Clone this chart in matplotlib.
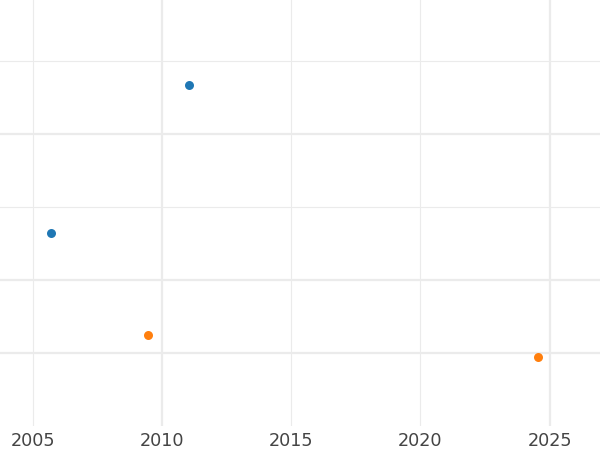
import matplotlib
matplotlib.use("Agg")
import matplotlib.pyplot as plt

series_names = ["A", "B"]
blue_x = [2011.05, 2005.73]
blue_y = [3.666, 1.645]
orange_x = [2009.47, 2024.57]
orange_y = [0.253, -0.048]

x_major = [2010, 2025]
x_minor = [2005, 2015, 2020]
y_major = [0, 1, 3]
y_minor = [2, 4]

fig = plt.figure(figsize=(6, 4.5), dpi=100)
ax = fig.add_axes([0, 1 - 426 / 450, 1, 426 / 450])
ax.set_xlim(2003.74, 2026.95)
ax.set_ylim(-0.99, 4.826)

ax.set_xticks(x_major)
ax.set_xticks(x_minor, minor=True)
ax.set_xticklabels([str(v) for v in x_major])
ax.set_xticklabels([str(v) for v in x_minor], minor=True)
ax.set_yticks(y_major)
ax.set_yticks(y_minor, minor=True)
ax.set_yticklabels([])
ax.set_yticklabels([], minor=True)

ax.tick_params(axis="both", which="both", length=0, labelsize=12.7, labelcolor="#444444", pad=4)
ax.tick_params(axis="y", which="both", left=False, labelleft=False)
for s in ax.spines.values():
    s.set_visible(False)

ax.grid(True, which="major", color="#ebebeb", linewidth=1.6)
ax.grid(True, which="minor", color="#ebebeb", linewidth=0.8)
ax.set_axisbelow(True)

ax.scatter(blue_x, blue_y, s=42, color="#1f77b4", zorder=3, label=series_names[0], linewidths=0)
ax.scatter(orange_x, orange_y, s=42, color="#ff7f0e", zorder=3, label=series_names[1], linewidths=0)

fig.savefig("out.png", dpi=100)
